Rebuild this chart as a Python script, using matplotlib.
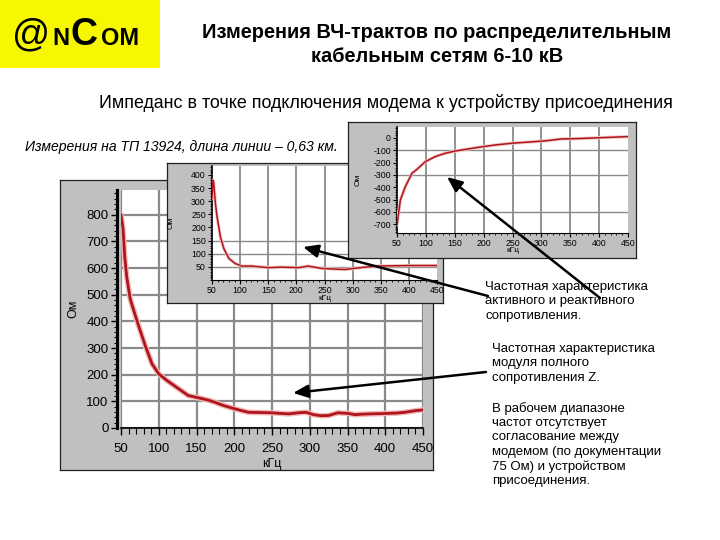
import matplotlib
matplotlib.use("Agg")
import matplotlib.pyplot as plt
from matplotlib.ticker import MultipleLocator
from matplotlib.patches import Rectangle

plt.rcParams['font.family'] = ['Liberation Sans', 'DejaVu Sans']
plt.rcParams['axes.unicode_minus'] = False
NARROW = ['Liberation Sans Narrow', 'Liberation Sans', 'DejaVu Sans']

# ---------------- data ----------------
# Modulus |Z| (big chart)
z_freq = [50, 52.6, 55, 57.6, 62, 65, 73, 82, 91, 100, 110, 117, 130, 139, 153, 165,
          174, 185, 197, 210, 219, 235, 250, 260, 272, 285, 295, 305, 315, 325, 337,
          350, 360, 370, 381, 395, 404, 415, 426, 440, 450]
z_ohm = [800, 750, 640, 567, 487, 458, 386, 310, 241, 203, 180, 166, 140, 122, 113, 105,
         97, 85, 75, 65, 59, 58, 57, 55, 53, 57, 59, 50, 46, 47, 57,
         55, 50, 52, 53, 54, 55, 56, 59, 65, 68]

# Active resistance R (middle chart)
r_freq = [50, 51.5, 53, 56, 59, 65, 71, 80, 91, 103, 121, 150, 174, 204, 221, 245,
          286, 322, 345, 400, 450]
r_ohm = [310, 380, 370, 292, 241, 164, 120, 82, 63, 53, 53, 47, 49, 47, 53, 44,
         40, 49, 53, 55, 55]

# Reactance X (right chart)
x_freq = [50, 55.8, 64.4, 75.9, 84.5, 98.9, 116, 133, 151, 191, 220, 248.6, 306, 335,
          364, 450]
x_ohm = [-707, -504, -396, -287, -255, -193, -152, -125, -106, -76, -57, -43, -24, -8,
         -5, 11]

freq_ticks = [50, 100, 150, 200, 250, 300, 350, 400, 450]
z_ticks = [0, 100, 200, 300, 400, 500, 600, 700, 800]
r_ticks = [50, 100, 150, 200, 250, 300, 350, 400]
x_ticks = [0, -100, -200, -300, -400, -500, -600, -700]

title_lines = ["Измерения ВЧ-трактов по распределительным", "кабельным сетям 6-10 кВ"]
subtitle = "Импеданс в точке подключения модема к устройству присоединения"
meas_note = "Измерения на ТП 13924, длина линии – 0,63 км."
note_rx = "Частотная характеристика\nактивного и реактивного\nсопротивления."
note_z = "Частотная характеристика\nмодуля полного\nсопротивления Z."
note_match = ("В рабочем диапазоне\nчастот отсутствует\nсогласование между\n"
              "модемом (по документации\n75 Ом) и устройством\nприсоединения.")

# ---------------- figure ----------------
W, H = 720, 540
fig = plt.figure(figsize=(W / 100, H / 100), dpi=100)
fig.patch.set_facecolor('white')

PANEL = '#c0c0c0'
GRID = '#8a8a8a'
CURVE = '#b0141c'


def px_axes(l, t, r, b, z):
    return fig.add_axes([l / W, 1 - b / H, (r - l) / W, (b - t) / H], zorder=z)


def panel(l, t, r, b, z):
    a = px_axes(l, t, r, b, z)
    a.set_facecolor(PANEL)
    a.set_xticks([])
    a.set_yticks([])
    for s in a.spines.values():
        s.set_color('#202020')
        s.set_linewidth(0.9)
    return a


def style_plot(a, fs):
    a.set_facecolor('white')
    for s in ['top', 'right']:
        a.spines[s].set_visible(False)
    for s in ['left', 'bottom']:
        a.spines[s].set_color('black')
    a.tick_params(which='both', direction='out', colors='black')
    for lab in a.get_xticklabels() + a.get_yticklabels():
        lab.set_fontfamily(NARROW)
        lab.set_fontsize(fs)


# ---- big chart (|Z|)
panel(60, 180, 433, 470, 1)
ax = px_axes(121, 190, 423, 428, 2)
ax.plot(z_freq, z_ohm, color='#f2b8b8', lw=4.0, solid_capstyle='round', zorder=3)
ax.plot(z_freq, z_ohm, color=CURVE, lw=2.0, zorder=4)
ax.set_xlim(50, 450)
ax.set_ylim(0, 893)
ax.set_xticks(freq_ticks)
ax.set_yticks(z_ticks)
ax.xaxis.set_minor_locator(MultipleLocator(10))
ax.yaxis.set_minor_locator(MultipleLocator(20))
ax.grid(True, which='major', color=GRID, lw=1.6)
ax.set_axisbelow(True)
ax.spines['left'].set_position(('outward', 3))
ax.spines['left'].set_linewidth(2.2)
ax.spines['bottom'].set_linewidth(1.2)
ax.tick_params(axis='x', which='major', length=5, width=1, pad=6)
ax.tick_params(axis='x', which='minor', length=4, width=0.8)
ax.tick_params(axis='y', which='major', length=4, width=1, pad=2)
ax.tick_params(axis='y', which='minor', length=2.5, width=0.8)
style_plot(ax, 9.5)
ax.set_xlabel("кГц", fontsize=9, labelpad=2)
ax.set_ylabel("Ом", fontsize=9, labelpad=5)

# ---- middle chart (R)
panel(167, 163, 443, 303, 3)
am = px_axes(212, 166, 437, 280, 4)
am.plot(r_freq, r_ohm, color='#f2c4c4', lw=2.4, zorder=3)
am.plot(r_freq, r_ohm, color=CURVE, lw=1.1, zorder=4)
am.set_xlim(50, 450)
am.set_ylim(0, 434)
am.set_xticks(freq_ticks)
am.set_yticks(r_ticks)
am.xaxis.set_minor_locator(MultipleLocator(10))
am.yaxis.set_minor_locator(MultipleLocator(10))
for f in freq_ticks[1:-1]:
    am.axvline(f, color=GRID, lw=1.3, zorder=1)
for v in [50, 100, 150]:
    am.axhline(v, color=GRID, lw=1.0, zorder=1)
am.spines['left'].set_linewidth(1.2)
am.tick_params(which='major', length=3, width=0.8, pad=1.5)
am.tick_params(which='minor', length=1.5, width=0.6)
style_plot(am, 6.3)
am.set_xlabel("кГц", fontsize=6, labelpad=0)
am.set_ylabel("Ом", fontsize=6, labelpad=12)

# ---- right chart (X)
panel(348, 122, 636, 258, 5)
ar = px_axes(397, 127, 628, 233, 6)
ar.plot(x_freq, x_ohm, color='#f2c4c4', lw=2.4, zorder=3)
ar.plot(x_freq, x_ohm, color=CURVE, lw=1.1, zorder=4)
ar.set_xlim(50, 450)
ar.set_ylim(-772, 89)
ar.set_xticks(freq_ticks)
ar.set_yticks(x_ticks)
ar.xaxis.set_minor_locator(MultipleLocator(10))
ar.yaxis.set_minor_locator(MultipleLocator(20))
for f in freq_ticks[1:-1]:
    ar.axvline(f, color=GRID, lw=1.3, zorder=1)
for v in [-100, -300, -600]:
    ar.axhline(v, color=GRID, lw=1.0, zorder=1)
ar.spines['left'].set_linewidth(1.2)
ar.tick_params(which='major', length=3, width=0.8, pad=1.5)
ar.tick_params(which='minor', length=1.5, width=0.6)
style_plot(ar, 6.3)
ar.set_xlabel("кГц", fontsize=6, labelpad=-1)
ar.set_ylabel("Ом", fontsize=6, labelpad=8)

# ---------------- overlay: logo, titles, notes, arrows ----------------
ov = fig.add_axes([0, 0, 1, 1], zorder=20)
ov.set_xlim(0, W)
ov.set_ylim(H, 0)
ov.axis('off')
ov.patch.set_alpha(0)

ov.add_patch(Rectangle((0, 0), 160, 68, facecolor='#f7f700', edgecolor='none'))
logo_parts = [("@", 12, 27, 'normal'), ("N", 52, 17, 'bold'),
              ("C", 71, 27, 'bold'), ("OM", 101, 17, 'bold')]
for txt, x0, fs, fw in logo_parts:
    ov.text(x0, 45, txt, fontsize=fs, fontweight=fw, color='black',
            ha='left', va='baseline', family=['Liberation Sans', 'DejaVu Sans'])

ov.text(437, 33, title_lines[0], fontsize=14.4, fontweight='bold', ha='center', va='center')
ov.text(437, 56, title_lines[1], fontsize=14.4, fontweight='bold', ha='center', va='center')
ov.text(386, 103, subtitle, fontsize=12.9, ha='center', va='center')
ov.text(25, 147, meas_note, fontsize=10.1, style='italic', ha='left', va='center')

ov.text(485, 281, note_rx, fontsize=9.5, ha='left', va='top', linespacing=1.25)
ov.text(492, 343, note_z, fontsize=9.5, ha='left', va='top', linespacing=1.25)
ov.text(492, 402, note_match, fontsize=9.5, ha='left', va='top', linespacing=1.25)

arrow_kw = dict(arrowstyle='-|>,head_length=0.7,head_width=0.3', color='black', lw=1.8,
                mutation_scale=13, shrinkA=0, shrinkB=0)
ov.annotate("", xy=(447, 177), xytext=(600, 298), arrowprops=arrow_kw)
ov.annotate("", xy=(303, 247), xytext=(488, 296), arrowprops=arrow_kw)
ov.annotate("", xy=(293, 393), xytext=(486, 372), arrowprops=arrow_kw)

fig.savefig("out.png", dpi=100, facecolor='white')
